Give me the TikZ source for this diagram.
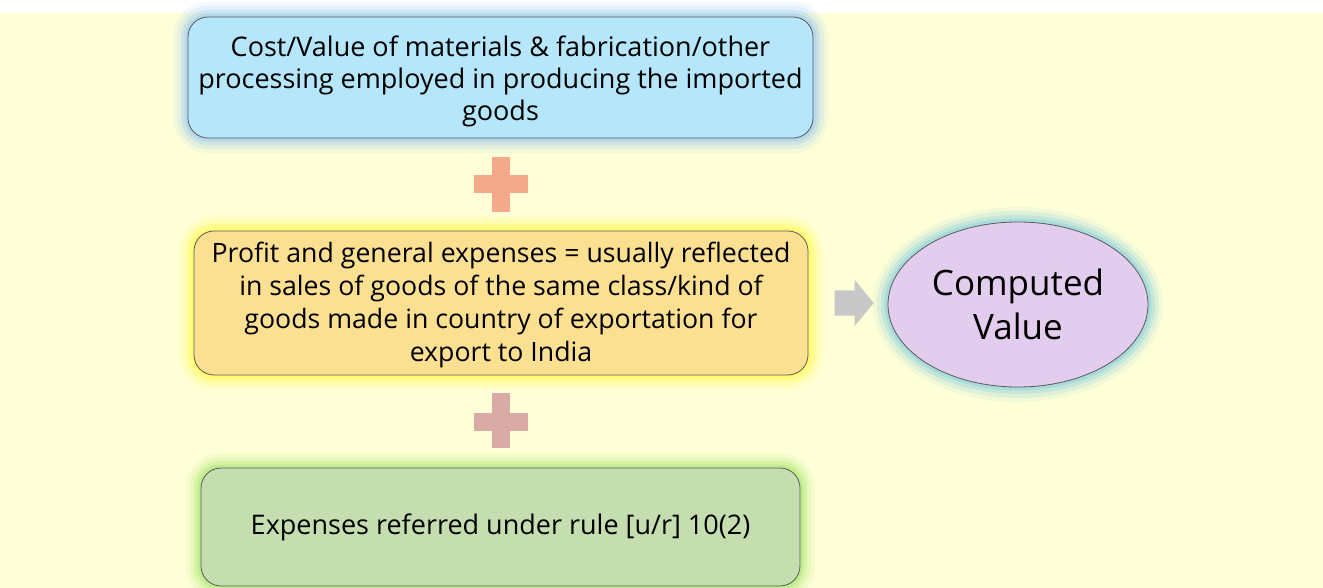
\documentclass[tikz,border=0pt]{standalone}
\usepackage{fontspec}
\setmainfont{Open Sans}
\usetikzlibrary{shapes.geometric,shapes.arrows}
\definecolor{bgyellow}{RGB}{255,255,215}
\definecolor{topfill}{RGB}{181,230,249}
\definecolor{topglow}{RGB}{140,195,245}
\definecolor{midfill}{RGB}{252,224,146}
\definecolor{midglow}{RGB}{255,250,60}
\definecolor{botfill}{RGB}{196,222,176}
\definecolor{botglow}{RGB}{160,228,100}
\definecolor{ellfill}{RGB}{227,205,238}
\definecolor{ellglow}{RGB}{120,200,222}
\definecolor{plusone}{RGB}{244,168,140}
\definecolor{plustwo}{RGB}{217,170,166}
\definecolor{arrowgray}{RGB}{200,200,200}
\definecolor{edgegray}{RGB}{90,90,90}
\tikzset{
  glow/.style={
    preaction={draw=#1,line width=30pt,opacity=0.10},
    preaction={draw=#1,line width=22pt,opacity=0.15},
    preaction={draw=#1,line width=14pt,opacity=0.25},
    preaction={draw=#1,line width=7pt,opacity=0.35}},
  boxnode/.style={draw=edgegray,line width=0.8pt,rounded corners=20pt,align=center,
    inner sep=0pt,font=\fontsize{27}{32}\selectfont},
}
\begin{document}
\begin{tikzpicture}[x=1pt,y=-1pt]
\useasboundingbox (0,0) rectangle (1323,588);
\fill[white] (0,0) rectangle (1323,588);
\fill[bgyellow] (0,13) rectangle (1323,588);

\node[boxnode,fill=topfill,glow=topglow,minimum width=625pt,minimum height=121pt] (top) at (500.5,77.5)
  {\rule{0pt}{28.5pt}Cost/Value of materials \& fabrication/other\\processing employed in producing the imported\\goods};

\node[boxnode,fill=midfill,glow=midglow,minimum width=614pt,minimum height=144pt,
  font=\fontsize{26.7}{33}\selectfont] (mid) at (501,303)
  {\rule{0pt}{24pt}Profit and general expenses = usually reflected\\in sales of goods of the same class/kind of\\goods made in country of exportation for\\export to India};

\node[boxnode,fill=botfill,glow=botglow,minimum width=599pt,minimum height=118pt] (bot) at (500.5,527)
  {Expenses referred under rule [u/r] 10(2)};

% plus signs
\fill[plusone] (474,175) rectangle (528,193);
\fill[plusone] (492,157) rectangle (510,212);
\fill[plustwo] (474,413) rectangle (528,431);
\fill[plustwo] (492,393) rectangle (510,448);

% block arrow
\node[single arrow,fill=arrowgray,draw=none,minimum height=39pt,inner ysep=12.5pt,inner xsep=0pt,
  single arrow head extend=10.5pt,single arrow tip angle=101,outer sep=0pt] (arr) at (849,303) {};

\node[ellipse,draw=edgegray,line width=0.8pt,fill=ellfill,glow=ellglow,minimum width=260pt,
  minimum height=165pt,inner sep=0pt,align=center,font=\fontsize{35}{44}\selectfont] (cv) at (1018,304.5)
  {Computed\\Value};
\end{tikzpicture}
\end{document}
